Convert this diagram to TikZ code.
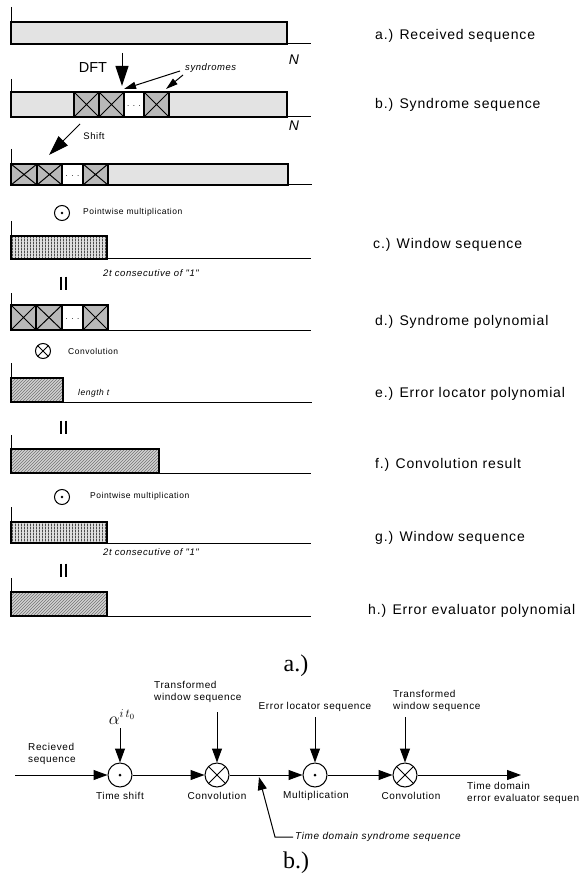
\documentclass[tikz,border=0pt]{standalone}
\usepackage{fontspec}
\setmainfont{Liberation Sans}
\newfontfamily\lsans[LetterSpace=6]{Liberation Sans}
\newfontfamily\tnr{Liberation Serif}
\usetikzlibrary{patterns,arrows.meta,calc}

% vertical stripes for window sequences
\pgfdeclarepatternformonly{fine vlines}{\pgfpointorigin}{\pgfqpoint{3pt}{3pt}}{\pgfqpoint{3pt}{3pt}}%
  {\pgfpathrectangle{\pgfpointorigin}{\pgfqpoint{1.3pt}{3pt}}\pgfusepath{fill}}

\tikzset{
  axisline/.style={line width=1pt},
  boxline/.style={line width=1.3pt},
  crossline/.style={line width=1pt},
  stipple/.style={fill=gray!22},
  darkcell/.style={fill=gray!55},
  flow/.style={line width=1pt,-{Triangle[length=14pt,width=10pt]}},
  bigtip/.style={line width=1pt,-{Triangle[length=20pt,width=13pt]}},
  smalltip/.style={line width=1pt,-{Triangle[length=12pt,width=7pt]}},
  rlabel/.style={anchor=west,inner sep=0pt,font=\lsans\fontsize{14}{16}\selectfont},
  hint/.style={anchor=west,inner sep=0pt,font=\lsans\fontsize{8.5}{10}\selectfont},
  ihint/.style={anchor=west,inner sep=0pt,font=\lsans\itshape\fontsize{9.5}{11}\selectfont},
  blabel/.style={inner sep=0pt,align=left,font=\lsans\fontsize{10}{12}\selectfont},
  dotsfont/.style={inner sep=0pt,font=\lsans\fontsize{8}{8}\selectfont},
  bigdot/.style={circle,draw,line width=1pt,minimum size=24pt,inner sep=0pt,
    path picture={\fill (path picture bounding box.center) circle (1.5pt);}},
  smalldot/.style={circle,draw,line width=1pt,minimum size=15pt,inner sep=0pt,
    path picture={\fill (path picture bounding box.center) circle (1.4pt);}},
  bigcross/.style={circle,draw,line width=1pt,minimum size=24pt,inner sep=0pt,
    path picture={\draw[line width=1pt]
      ([shift={(45:14pt)}]path picture bounding box.center) -- ([shift={(225:14pt)}]path picture bounding box.center)
      ([shift={(135:14pt)}]path picture bounding box.center) -- ([shift={(315:14pt)}]path picture bounding box.center);}},
  smallcross/.style={circle,draw,line width=1pt,minimum size=15pt,inner sep=0pt,
    path picture={\draw[line width=1pt]
      ([shift={(45:9pt)}]path picture bounding box.center) -- ([shift={(225:9pt)}]path picture bounding box.center)
      ([shift={(135:9pt)}]path picture bounding box.center) -- ([shift={(315:9pt)}]path picture bounding box.center);}},
}

% axis of a sequence: vertical tick from #1 down to the base line #2, base line to x=#3
\newcommand\seqframe[3]{\draw[axisline] (11,#1) -- (11,#2) -- (#3,#2);}
% crossed syndrome cell: x from #1 to #2, y from #3 to #4
\newcommand\xcell[4]{%
  \draw[boxline,darkcell] (#1,#3) rectangle (#2,#4);
  \draw[crossline] (#1,#3) -- (#2,#4) (#1,#4) -- (#2,#3);}
% white cell holding the dots, named #5
\newcommand\dcell[5]{%
  \draw[boxline,fill=white] (#1,#3) rectangle (#2,#4);
  \node[dotsfont] (#5) at ({(#1+#2)/2},{(#3+#4)/2+2}) {. . .};}
% striped window block
\newcommand\stripebox[4]{%
  \fill[gray!25] (#1,#3) rectangle (#2,#4);
  \fill[pattern=fine vlines,pattern color=black!70] (#1,#3) rectangle (#2,#4);
  \draw[boxline] (#1,#3) rectangle (#2,#4);}
% hatched block
\newcommand\hatchbox[4]{%
  \fill[gray!35] (#1,#3) rectangle (#2,#4);
  \fill[pattern=north east lines,pattern color=black!55] (#1,#3) rectangle (#2,#4);
  \draw[boxline] (#1,#3) rectangle (#2,#4);}
% equality sign between rows, centred at (#1,#2)
\newcommand\eqbars[2]{\draw[line width=1.8pt] (#1-2.6,#2-6.5) -- (#1-2.6,#2+6.5) (#1+2.6,#2-6.5) -- (#1+2.6,#2+6.5);}

\begin{document}
\begin{tikzpicture}[x=1pt,y=-1pt]
\useasboundingbox (0,0) rectangle (579,874);

% ---------- a.) received sequence
\draw[boxline,stipple] (11,22) rectangle (287,44);
\seqframe{7}{44}{311}
\node[inner sep=0pt,font=\itshape\fontsize{14}{14}\selectfont] (n1) at (294,60) {N};

% DFT step
\node[inner sep=0pt,font=\fontsize{14.5}{15}\selectfont] (dft) at (93,68) {DFT};
\coordinate (dfts) at (122,53);
\coordinate (dfte) at (122,86);
\draw[bigtip] (dfts) -- (dfte);

% syndromes pointer
\node[ihint] (syn) at (185,68) {syndromes};
\coordinate (syna) at (180,71);
\coordinate (synb) at (124,89);
\coordinate (sync) at (183,75);
\coordinate (synd) at (166,89);
\draw[smalltip] (syna) -- (synb);
\draw[smalltip] (sync) -- (synd);

% ---------- b.) syndrome sequence
\draw[boxline,stipple] (11,92) rectangle (287,117);
\xcell{74}{99}{92}{117}
\xcell{99}{124}{92}{117}
\dcell{124}{144}{92}{117}{dotsb}
\xcell{144}{169}{92}{117}
\seqframe{79}{117}{311}
\node[inner sep=0pt,font=\itshape\fontsize{14}{14}\selectfont] (n2) at (294,126) {N};

% shift step
\node[inner sep=0pt,font=\lsans\fontsize{9.5}{10}\selectfont] (shift) at (94,136) {Shift};
\coordinate (shs) at (80,124);
\coordinate (she) at (49,155);
\draw[bigtip] (shs) -- (she);

% ---------- shifted syndrome sequence
\draw[boxline,stipple] (11,164) rectangle (288,185);
\xcell{11}{37}{164}{185}
\xcell{37}{62}{164}{185}
\dcell{62}{83}{164}{185}{dotss}
\xcell{83}{108}{164}{185}
\seqframe{149}{185}{312}

\node[smalldot] (op1) at (62,213) {};
\node[hint] (op1t) at (83,212) {Pointwise multiplication};

% ---------- c.) window sequence
\stripebox{11}{107}{236}{259}
\seqframe{221}{259}{311}
\node[ihint] (w1) at (103,273) {2t consecutive of "1"};
\eqbars{63.5}{283}

% ---------- d.) syndrome polynomial
\xcell{11}{36}{305}{330}
\xcell{36}{62}{305}{330}
\dcell{62}{83}{305}{330}{dotsd}
\xcell{83}{108}{305}{330}
\seqframe{293}{330}{311}

\node[smallcross] (op2) at (43,351) {};
\node[hint] (op2t) at (68,351) {Convolution};

% ---------- e.) error locator polynomial
\hatchbox{11}{63}{378}{402}
\seqframe{363}{402}{312}
\node[ihint,font=\lsans\itshape\fontsize{8.5}{10}\selectfont] (lt) at (78,393) {length t};
\eqbars{63.5}{427}

% ---------- f.) convolution result
\hatchbox{11}{159}{449}{473}
\seqframe{435}{473}{311}

\node[smalldot] (op3) at (62,497) {};
\node[hint] (op3t) at (90,496) {Pointwise multiplication};

% ---------- g.) window sequence
\stripebox{11}{107}{522}{543}
\seqframe{507}{543}{311}
\node[ihint] (w2) at (103,552) {2t consecutive of "1"};
\eqbars{63.5}{570}

% ---------- h.) error evaluator polynomial
\hatchbox{11}{107}{592}{616}
\seqframe{578}{616}{311}

% row captions
\node[rlabel] (la) at (375,36)  {a.) Received sequence};
\node[rlabel] (lb) at (375,105) {b.) Syndrome sequence};
\node[rlabel] (lc) at (373,245) {c.) Window sequence};
\node[rlabel] (ld) at (375,322) {d.) Syndrome polynomial};
\node[rlabel] (le) at (375,394) {e.) Error locator polynomial};
\node[rlabel] (lf) at (375,465) {f.) Convolution result};
\node[rlabel] (lg) at (375,538) {g.) Window sequence};
\node[rlabel] (lh) at (368,611) {h.) Error evaluator polynomial};

\node[anchor=base,inner sep=0pt,font=\tnr\fontsize{24}{24}\selectfont] (capa) at (296,671) {a.)};

% ---------- block diagram
\node[bigdot]   (ts)  at (120,775) {};
\node[bigcross] (cv1) at (217,775) {};
\node[bigdot]   (mul) at (315,775) {};
\node[bigcross] (cv2) at (405,775) {};
\coordinate (in)  at (15,775);
\coordinate (out) at (521,775);

\draw[flow] (in) -- (ts);
\draw[flow] (ts) -- (cv1);
\draw[flow] (cv1) -- (mul);
\draw[flow] (mul) -- (cv2);
\draw[flow] (cv2) -- (out);

\node[blabel,anchor=west] (rx) at (28,754) {Recieved\\sequence};
\node[inner sep=0pt,font=\fontsize{17}{17}\selectfont] (alpha) at (122,717) {$\alpha^{i\,t_0}$};
\coordinate (alphab) at (120,728);
\draw[flow] (alphab) -- (ts);

\node[blabel,anchor=west] (tw1) at (154,692) {Transformed\\window sequence};
\coordinate (tw1b) at (217,712);
\draw[flow] (tw1b) -- (cv1);

\node[blabel] (els) at (315,707) {Error locator sequence};
\coordinate (elsb) at (315,717);
\draw[flow] (elsb) -- (mul);

\node[blabel,anchor=west] (tw2) at (393,701) {Transformed\\window sequence};
\coordinate (tw2b) at (405,717);
\draw[flow] (tw2b) -- (cv2);

\node[blabel] (tsl)  at (120,796) {Time shift};
\node[blabel] (cv1l) at (217,796) {Convolution};
\node[blabel] (mull) at (316,796) {Multiplication};
\node[blabel] (cv2l) at (411,796) {Convolution};
\node[blabel,anchor=west] (outl) at (467,793) {Time domain\\error evaluator sequen};

% tap for the time domain syndrome sequence
\node[anchor=west,inner sep=2pt,font=\lsans\itshape\fontsize{10}{12}\selectfont] (tds) at (293,837) {Time domain syndrome sequence};
\coordinate (bend) at (275,837);
\coordinate (tap)  at (259,777);
\draw[line width=1pt,-{Triangle[length=13pt,width=9pt]}] (tds.west) -- (bend) -- (tap);

\node[anchor=base,inner sep=0pt,font=\tnr\fontsize{24}{24}\selectfont] (capb) at (296,868) {b.)};
\end{tikzpicture}
\end{document}
